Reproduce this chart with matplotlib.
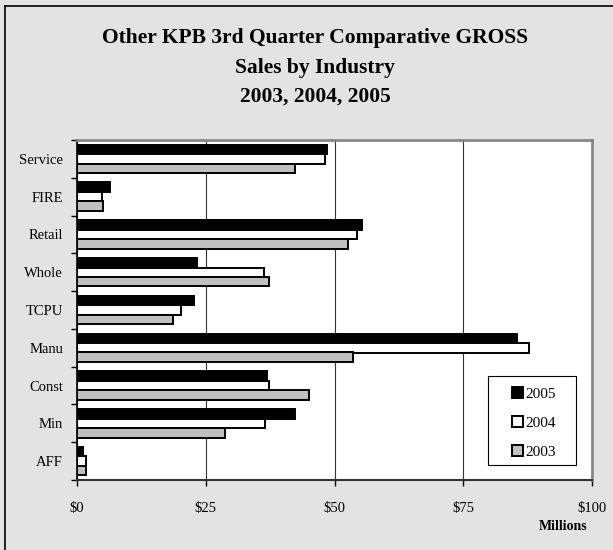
import matplotlib
matplotlib.use("Agg")
import matplotlib.pyplot as plt
from matplotlib.patches import Patch, Rectangle
from matplotlib.lines import Line2D
import numpy as np

categories = ["AFF", "Min", "Const", "Manu", "TCPU", "Whole", "Retail", "FIRE", "Service"]
sales_2005 = [1.2, 42.4, 36.8, 85.4, 22.8, 23.3, 55.4, 6.4, 48.6]
sales_2004 = [1.7, 36.6, 37.2, 87.7, 20.2, 36.4, 54.4, 4.8, 48.2]
sales_2003 = [1.7, 28.8, 45.0, 53.5, 18.6, 37.2, 52.6, 5.1, 42.4]
x_ticks = [0, 25, 50, 75, 100]
x_tick_labels = ["$0", "$25", "$50", "$75", "$100"]

plt.rcParams['font.family'] = ['Liberation Serif', 'DejaVu Serif']

W, H = 613, 550
fig = plt.figure(figsize=(W / 100, H / 100), dpi=100)
bg = "#e3e3e3"
fig.patch.set_facecolor(bg)

# outer border (left and top visible)
fig.add_artist(Line2D([5 / W, 5 / W], [0, 1 - 6 / H], transform=fig.transFigure, color="black", lw=1.2))
fig.add_artist(Line2D([5 / W, 1], [1 - 6 / H, 1 - 6 / H], transform=fig.transFigure, color="black", lw=1.2))

left, right, top, bottom = 77, 592, 140, 480
ax = fig.add_axes([left / W, 1 - bottom / H, (right - left) / W, (bottom - top) / H])
ax.set_facecolor("white")

y = np.arange(len(categories))
h = 0.25
ax.barh(y + h, sales_2005, height=h, color="black", edgecolor="black", linewidth=1.4, zorder=3)
ax.barh(y, sales_2004, height=h, color="white", edgecolor="black", linewidth=1.4, zorder=3)
ax.barh(y - h, sales_2003, height=h, color="#c0c0c0", edgecolor="black", linewidth=1.4, zorder=3)

ax.set_xlim(0, 100)
ax.set_ylim(-0.5, len(categories) - 0.5)
ax.set_xticks(x_ticks)
ax.set_xticklabels(x_tick_labels, fontsize=10.5)
ax.set_yticks(y)
ax.set_yticklabels(categories, fontsize=10.5)
ax.set_yticks(np.arange(-0.5, len(categories), 1), minor=True)
ax.tick_params(axis="y", which="major", length=0, pad=10)
ax.tick_params(axis="y", which="minor", length=4, width=1, direction="out")
ax.tick_params(axis="x", which="major", length=4, width=1, direction="out", pad=12)

ax.grid(axis="x", color="#333333", linewidth=0.8, zorder=1)
for s in ["top", "right"]:
    ax.spines[s].set_color("#888888")
    ax.spines[s].set_linewidth(2)
ax.spines["left"].set_color("black")
ax.spines["left"].set_linewidth(1.2)
ax.spines["bottom"].set_color("#333333")
ax.spines["bottom"].set_linewidth(1.5)

# legend frame
pw, ph = (right - left), (bottom - top)
lx0, lx1, ly0, ly1 = 488, 576, 376, 465
ax.add_patch(Rectangle(((lx0 - left) / pw, (bottom - ly1) / ph), (lx1 - lx0) / pw, (ly1 - ly0) / ph,
                       transform=ax.transAxes, facecolor="white", edgecolor="black", linewidth=0.8,
                       zorder=4))
handles = [
    Patch(facecolor="black", edgecolor="black", linewidth=1.4, label="2005"),
    Patch(facecolor="white", edgecolor="black", linewidth=1.4, label="2004"),
    Patch(facecolor="#c0c0c0", edgecolor="black", linewidth=1.4, label="2003"),
]
leg = ax.legend(handles=handles, loc="center",
                bbox_to_anchor=(((lx0 + lx1) / 2 - left) / pw + 0.004,
                                (bottom - (ly0 + ly1) / 2) / ph - 0.007),
                fontsize=11, frameon=False,
                handlelength=0.75, handleheight=0.75, handletextpad=0.15, labelspacing=1.0,
                borderpad=0, borderaxespad=0)
leg.set_zorder(5)

fig.text(315 / W, 1 - 38 / H, "Other KPB 3rd Quarter Comparative GROSS", ha="center", va="center",
         fontsize=15.5, fontweight="bold")
fig.text(315 / W, 1 - 68 / H, "Sales by Industry", ha="center", va="center", fontsize=15.5, fontweight="bold")
fig.text(315 / W, 1 - 97 / H, "2003, 2004, 2005", ha="center", va="center", fontsize=15.5, fontweight="bold")
fig.text(563 / W, 1 - 527 / H, "Millions", ha="center", va="center", fontsize=10, fontweight="bold")

fig.savefig("out.png", dpi=100, facecolor=bg)
